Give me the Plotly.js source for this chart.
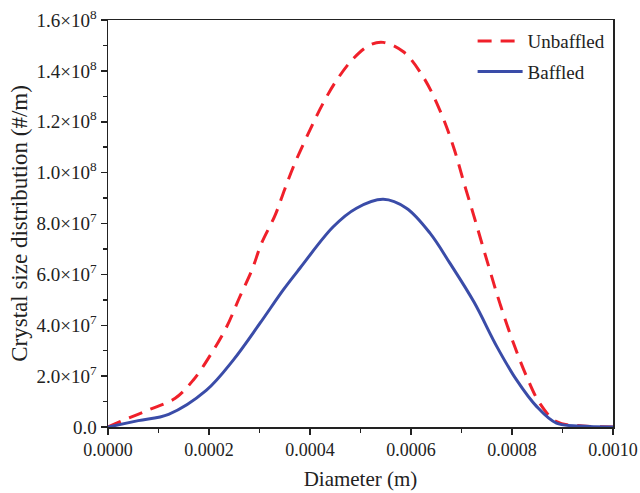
<!DOCTYPE html>
<html><head><meta charset="utf-8">
<script src="https://cdn.plot.ly/plotly-3.0.1.min.js"></script>
<style>html,body{margin:0;padding:0;background:#fff}</style>
</head><body><div id="chart" style="width:640px;height:493px"></div>
<script>
const unbaffledD = [0, 0.0000238, 0.00008, 0.000133, 0.000169, 0.000205, 0.000235, 0.000261, 0.000285, 0.000304, 0.000331, 0.00035, 0.00037, 0.0004, 0.000426, 0.000453, 0.000486, 0.000519, 0.000545, 0.000585, 0.000624, 0.000657, 0.000684, 0.000707, 0.000723, 0.00075, 0.000776, 0.000803, 0.000829, 0.000855, 0.000888, 0.00094, 0.001];
const unbaffledV = [0, 2.1e6, 6.7e6, 1.13e7, 1.85e7, 2.9e7, 3.94e7, 5.12e7, 6.17e7, 7.22e7, 8.33e7, 9.35e7, 1.037e8, 1.168e8, 1.273e8, 1.364e8, 1.449e8, 1.502e8, 1.512e8, 1.475e8, 1.377e8, 1.246e8, 1.102e8, 9.45e7, 8.4e7, 6.57e7, 4.86e7, 3.29e7, 1.98e7, 9.3e6, 2.1e6, 4e5, 0];
const baffledD = [0, 0.00006, 0.00012, 0.000195, 0.000248, 0.000301, 0.000347, 0.00038, 0.000446, 0.000492, 0.000545, 0.000591, 0.000638, 0.000677, 0.000725, 0.00077, 0.000809, 0.000849, 0.000888, 0.000935, 0.001];
const baffledV = [0, 2.5e6, 5.0e6, 1.45e7, 2.63e7, 4.08e7, 5.39e7, 6.24e7, 7.87e7, 8.6e7, 8.95e7, 8.6e7, 7.61e7, 6.44e7, 4.9e7, 3.16e7, 1.85e7, 8.0e6, 1.5e6, 4e5, 0];
const xTickVals = [0, 0.0002, 0.0004, 0.0006, 0.0008, 0.001];
const xTickText = ["0.0000", "0.0002", "0.0004", "0.0006", "0.0008", "0.0010"];
const yTickVals = [0, 2e7, 4e7, 6e7, 8e7, 1e8, 1.2e8, 1.4e8, 1.6e8];
const yTickText = ["0.0", "2.0×10<sup>7</sup>", "4.0×10<sup>7</sup>", "6.0×10<sup>7</sup>", "8.0×10<sup>7</sup>", "1.0×10<sup>8</sup>", "1.2×10<sup>8</sup>", "1.4×10<sup>8</sup>", "1.6×10<sup>8</sup>"];

const font = "Liberation Serif, Times New Roman, serif";
const traces = [
  {x: unbaffledD, y: unbaffledV, name: "Unbaffled", mode: "lines", legendgroup: "a",
   line: {color: "#f0202a", width: 3, dash: "14px,9px", shape: "spline", smoothing: 1}},
  {x: baffledD, y: baffledV, name: "Baffled", mode: "lines", legendgroup: "b",
   line: {color: "#3a4ca8", width: 3, shape: "spline", smoothing: 1}}
];
const layout = {
  width: 640, height: 493,
  margin: {l: 108, r: 27, t: 20, b: 66},
  paper_bgcolor: "#fff", plot_bgcolor: "#fff",
  font: {family: font, size: 18, color: "#222"},
  showlegend: true,
  legend: {x: 0.722, y: 0.995, xanchor: "left", yanchor: "top", bgcolor: "rgba(0,0,0,0)",
           itemwidth: 45, font: {family: font, size: 19, color: "#222"}, tracegroupgap: 3},
  xaxis: {range: [0, 0.001], tickvals: xTickVals, ticktext: xTickText,
          ticks: "outside", ticklen: 6, tickwidth: 1.5, tickcolor: "#222",
          showline: true, linecolor: "#222", linewidth: 1.5, mirror: true,
          showgrid: false, zeroline: false,
          minor: {dtick: 0.0001, tick0: 0, ticks: "outside", ticklen: 4, tickcolor: "#222", tickwidth: 1.5, showgrid: false},
          title: {text: "Diameter (m)", font: {family: font, size: 21, color: "#222"}, standoff: 12},
          tickfont: {family: font, size: 18, color: "#222"}},
  yaxis: {range: [0, 1.6e8], tickvals: yTickVals, ticktext: yTickText,
          ticks: "outside", ticklen: 6, tickwidth: 1.5, tickcolor: "#222",
          showline: true, linecolor: "#222", linewidth: 1.5, mirror: true,
          showgrid: false, zeroline: false,
          minor: {dtick: 1e7, tick0: 0, ticks: "outside", ticklen: 4, tickcolor: "#222", tickwidth: 1.5, showgrid: false},
          title: {text: "Crystal size distribution (#/m)", font: {family: font, size: 23, color: "#222"}, standoff: 2},
          tickfont: {family: font, size: 19, color: "#222"}}
};
Plotly.newPlot("chart", traces, layout, {displayModeBar: false, staticPlot: true});
</script></body></html>
